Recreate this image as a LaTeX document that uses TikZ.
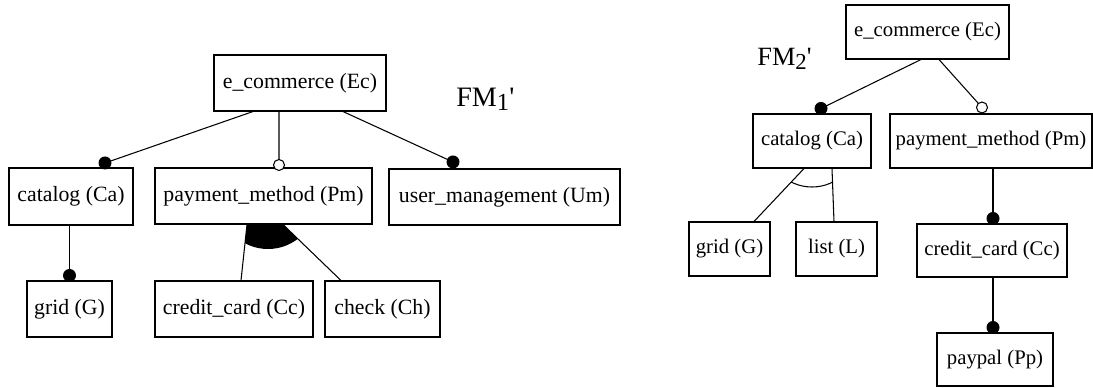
\documentclass[tikz,border=0pt]{standalone}
\usepackage{fontspec}
\setmainfont{Liberation Serif}
\usetikzlibrary{calc,backgrounds}
\begin{document}
\begin{tikzpicture}[x=0.02cm,y=-0.02cm,
  feat/.style={draw=black,line width=0.6pt,fill=white,rectangle,inner sep=0pt,minimum height=1.12cm,font=\fontsize{12.4}{14}\selectfont},
  feattwo/.style={feat,minimum height=1.08cm,font=\fontsize{11.8}{14}\selectfont},
  conn/.style={line width=0.6pt},
  mand/.style={circle,fill=black,inner sep=0pt,minimum size=0.26cm},
  opt/.style={circle,draw=black,fill=white,line width=0.6pt,inner sep=0pt,minimum size=0.22cm},
  fmlabel/.style={anchor=base west,inner sep=0pt,font=\fontsize{16}{18}\selectfont}]
\useasboundingbox (0,0) rectangle (1093,387);
% FM1'
\node[feat,minimum width=3.44cm] (Ec1) at (300,83) {e\_commerce (Ec)};
\node[feat,minimum width=2.48cm,minimum height=1.14cm] (Ca1) at (71,196.5) {catalog (Ca)};
\node[feat,minimum width=4.34cm] (Pm1) at (263.5,196) {payment\_method (Pm)};
\node[feat,minimum width=4.62cm] (Um1) at (504.5,197) {user\_management (Um)};
\node[feat,minimum width=1.70cm] (G1) at (69.5,309) {grid (G)};
\node[feat,minimum width=3.16cm] (Cc1) at (234,309) {credit\_card (Cc)};
\node[feat,minimum width=2.30cm] (Ch1) at (382.5,309) {check (Ch)};
\node[fmlabel] (L1) at (456,106) {FM\raisebox{-0.35ex}{\fontsize{14}{14}\selectfont 1}\textquotesingle};
% FM2'
\node[feattwo,minimum width=3.26cm] (Ec2) at (927.5,32) {e\_commerce (Ec)};
\node[feattwo,minimum width=2.36cm] (Ca2) at (812,141) {catalog (Ca)};
\node[feattwo,minimum width=4.04cm] (Pm2) at (991,141) {payment\_method (Pm)};
\node[feattwo,minimum width=1.62cm] (G2) at (729.5,249) {grid (G)};
\node[feattwo,minimum width=1.62cm] (L2) at (836.5,249) {list (L)};
\node[feattwo,minimum width=3.00cm,minimum height=1.06cm] (Cc2) at (992,250.5) {credit\_card (Cc)};
\node[feattwo,minimum width=2.32cm,minimum height=1.06cm] (Pp2) at (995,359.5) {paypal (Pp)};
\node[fmlabel,font=\fontsize{15}{18}\selectfont] (L2lab) at (757,65) {FM\raisebox{-0.35ex}{\fontsize{13}{13}\selectfont 2}\textquotesingle};
% end markers
\node[mand] (d1) at ($(Ca1.north)+(34,-4.5)$) {};
\node[opt] (o1) at ($(Pm1.north)+(15.5,-2.5)$) {};
\node[mand] (d2) at ($(Um1.north)+(-51.5,-6.5)$) {};
\node[mand] (d3) at ($(G1.north)+(0,-5)$) {};
\node[mand] (d4) at ($(Ca2.north)+(9,-5)$) {};
\node[opt] (o2) at ($(Pm2.north)+(-9,-6)$) {};
\node[mand] (d5) at ($(Cc2.north)+(1,-5)$) {};
\node[mand] (d6) at ($(Pp2.north)+(-2,-5)$) {};
\begin{pgfonlayer}{background}
  \draw[conn] ($(Ec1.south)+(-47,0)$) -- (d1.center);
  \draw[conn] ($(Ec1.south)+(-21,0)$) -- (o1.center);
  \draw[conn] ($(Ec1.south)+(43,0)$) -- (d2.center);
  \draw[conn] (d3.center |- Ca1.south) -- (d3.center);
  \begin{scope}
    \clip ($(Pm1.south)+(-16.5,0)$) -- ($(Cc1.north)+(7,0)$) -- ($(Ch1.north)+(-41.5,0)$) -- ($(Pm1.south)+(19.5,0)$) -- cycle;
    \fill ($(Pm1.center)+(4.5,4)$) circle[radius=0.98cm];
  \end{scope}
  \draw[conn] ($(Pm1.south)+(-16.5,0)$) -- ($(Cc1.north)+(7,0)$);
  \draw[conn] ($(Pm1.south)+(19.5,0)$) -- ($(Ch1.north)+(-41.5,0)$);
  % FM2
  \draw[conn] ($(Ec2.south)+(-6.5,0)$) -- (d4.center);
  \draw[conn] ($(Ec2.south)+(11.5,0)$) -- (o2.center);
  \draw[conn] (d5.center |- Pm2.south) -- (d5.center);
  \draw[conn] (d6.center |- Cc2.south) -- (d6.center);
  \begin{scope}
    \clip ($(Ca2.south)+(-8,0)$) -- ($(G2.north)+(24.5,0)$) -- ($(L2.north)+(-2.5,0)$) -- ($(Ca2.south)+(20,0)$) -- cycle;
    \draw[conn] (Ca2.center) circle[radius=0.92cm];
  \end{scope}
  \draw[conn] ($(Ca2.south)+(-8,0)$) -- ($(G2.north)+(24.5,0)$);
  \draw[conn] ($(Ca2.south)+(20,0)$) -- ($(L2.north)+(-2.5,0)$);
\end{pgfonlayer}
\end{tikzpicture}
\end{document}
